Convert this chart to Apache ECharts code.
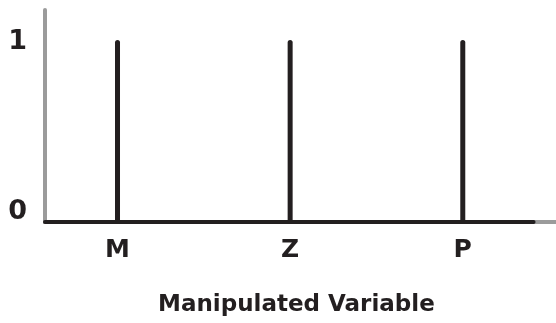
<!DOCTYPE html>
<html>
<head>
<meta charset="utf-8">
<script src="https://cdn.jsdelivr.net/npm/echarts@6/dist/echarts.min.js"></script>
<style>
  html, body { margin: 0; padding: 0; background: #ffffff; }
  #chart { width: 556px; height: 323px; }
</style>
</head>
<body>
<div id="chart"></div>
<script>
// Levels of the manipulated variable and the response at each level
const categories = ['M', 'Z', 'P'];
const values = [1, 1, 1];
const yTickValues = [0, 1];
const axisTitle = 'Manipulated Variable';

const ink = '#231f20';
const grey = '#9b9b9b';
const font = 'DejaVu Sans';

const xMin = -0.42, xMax = 2.54, xLineEnd = 2.41;

const chart = echarts.init(document.getElementById('chart'), null, { renderer: 'canvas' });

chart.setOption({
  animation: false,
  backgroundColor: '#ffffff',
  title: {
    text: axisTitle,
    left: 158,
    top: 294,
    padding: 0,
    textStyle: { fontFamily: font, fontWeight: 'bold', fontSize: 23, color: ink }
  },
  grid: { left: 45, right: 0, top: 10, bottom: 101 },
  xAxis: {
    type: 'value',
    min: xMin,
    max: xMax,
    axisLine: { show: true, onZero: false, lineStyle: { color: grey, width: 4 } },
    axisTick: { show: false },
    splitLine: { show: false },
    axisLabel: {
      customValues: categories.map((c, i) => i),
      formatter: (v) => categories[Math.round(v)] || '',
      fontFamily: font,
      fontWeight: 'bold',
      fontSize: 25,
      color: ink,
      margin: 16
    }
  },
  yAxis: {
    type: 'value',
    min: 0,
    max: 1.165,
    axisLine: { show: true, onZero: false, lineStyle: { color: grey, width: 4 } },
    axisTick: { show: false },
    splitLine: { show: false },
    axisLabel: {
      customValues: yTickValues,
      formatter: (v) => (v === 0 ? '{lo|0}' : '{n|' + v + '}'),
      margin: 18,
      rich: {
        n: { fontFamily: font, fontWeight: 'bold', fontSize: 27, color: ink, padding: [4, 0, 0, 0] },
        lo: { fontFamily: font, fontWeight: 'bold', fontSize: 27, color: ink, padding: [0, 0, 20, 0] }
      }
    }
  },
  series: [{
    type: 'bar',
    barWidth: 5,
    data: categories.map((c, i) => [i, values[i]]),
    itemStyle: { color: ink, borderRadius: [2.5, 2.5, 0, 0] },
    markLine: {
      silent: true,
      symbol: 'none',
      label: { show: false },
      lineStyle: { color: ink, width: 4, type: 'solid', cap: 'round' },
      data: [[{ coord: [xMin, 0] }, { coord: [xLineEnd, 0] }]]
    }
  }]
});
</script>
</body>
</html>
